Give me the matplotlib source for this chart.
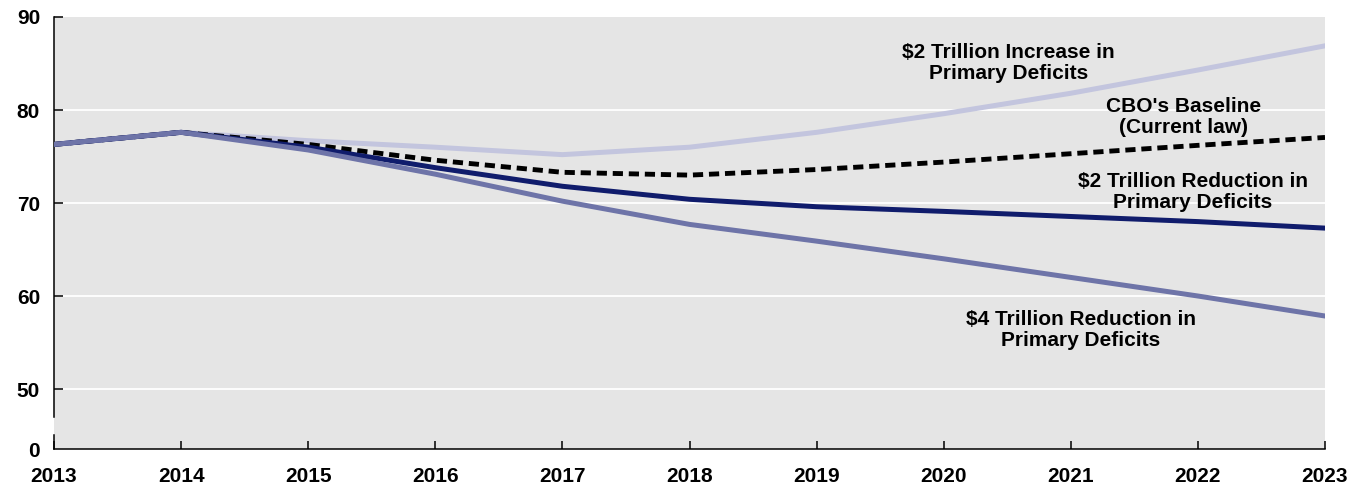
import numpy as np
import matplotlib.pyplot as plt

# debt held by the public, percent of GDP
years = np.arange(2013, 2024)
increase_2t = [76.3, 77.6, 76.7, 76.0, 75.2, 76.0, 77.6, 79.6, 81.8, 84.3, 86.9]
baseline = [76.3, 77.6, 76.3, 74.6, 73.3, 73.0, 73.6, 74.4, 75.3, 76.2, 77.05]
reduction_2t = [76.3, 77.6, 76.0, 73.8, 71.8, 70.4, 69.6, 69.1, 68.55, 68.0, 67.3]
reduction_4t = [76.3, 77.6, 75.7, 73.1, 70.2, 67.7, 65.9, 64.0, 62.0, 60.0, 57.85]

ytick_vals = [50, 60, 70, 80, 90]
ylo = 43.55  # bottom of the broken axis, labelled 0

plt.rcParams['font.family'] = ['Liberation Sans', 'DejaVu Sans']
plt.rcParams['font.weight'] = 'bold'

fig = plt.figure(figsize=(13.61, 4.87), dpi=100)
ax = fig.add_axes([54 / 1361, 1 - 449 / 487, (1325 - 54) / 1361, (449 - 17) / 487])
ax.set_facecolor('#e5e5e5')

for v in ytick_vals[:-1]:
    ax.axhline(v, color='white', lw=1.3, zorder=1)

ax.plot(years, increase_2t, color='#c3c5de', lw=3.6, zorder=2)
ax.plot(years, baseline, color='black', lw=3.5, ls=(0, (2.1, 1.2)), zorder=3)
ax.plot(years, reduction_2t, color='#101c6c', lw=3.6, zorder=4)
ax.plot(years, reduction_4t, color='#6e74a8', lw=3.6, zorder=5)

fs = 15
ax.text(2020.51, 85.05, "$2 Trillion Increase in\nPrimary Deficits", ha='center', va='center',
        fontsize=fs, fontweight='bold', linespacing=1.1)
ax.text(2021.89, 79.25, "CBO's Baseline\n(Current law)", ha='center', va='center',
        fontsize=fs, fontweight='bold', linespacing=1.1)
ax.text(2021.96, 71.18, "$2 Trillion Reduction in\nPrimary Deficits", ha='center', va='center',
        fontsize=fs, fontweight='bold', linespacing=1.1)
ax.text(2021.08, 56.34, "$4 Trillion Reduction in\nPrimary Deficits", ha='center', va='center',
        fontsize=fs, fontweight='bold', linespacing=1.1)

ax.set_xlim(2013, 2023)
ax.set_ylim(ylo, 90)
ax.set_xticks(years)
ax.set_xticklabels([str(y) for y in years], fontsize=fs, fontweight='bold')
ax.set_yticks([ylo] + ytick_vals)
ax.set_yticklabels(['0'] + [str(v) for v in ytick_vals], fontsize=fs, fontweight='bold')
ax.tick_params(axis='x', direction='in', length=6, width=1.1, pad=13)
ax.tick_params(axis='y', direction='in', length=6.5, width=1.1, pad=10)
ax.yaxis.get_major_ticks()[0].tick1line.set_visible(False)

for s in ['top', 'right']:
    ax.spines[s].set_visible(False)
ax.spines['bottom'].set_linewidth(1.1)
ax.spines['left'].set_linewidth(1.1)
# break in the y axis
ax.spines['left'].set_bounds(47.0, 90)
ax.plot([2013, 2013], [ylo, 45.05], color='black', lw=1.1, clip_on=False, zorder=6)

fig.savefig('out.png', dpi=100)
